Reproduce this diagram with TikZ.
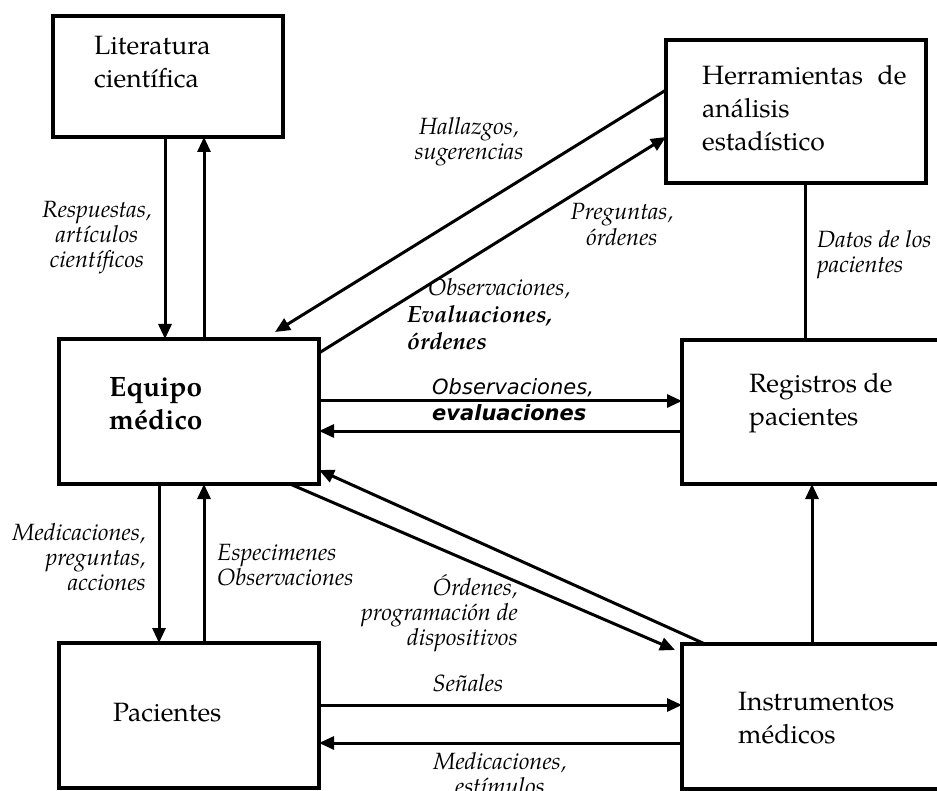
\documentclass[tikz,border=0pt]{standalone}
\usepackage{fontspec}
\setmainfont{texgyrepagella}[Extension=.otf, UprightFont=*-regular, BoldFont=*-bold, ItalicFont=*-italic, BoldItalicFont=*-bolditalic]
\newfontfamily\verdanafont{DejaVu Sans}
\usetikzlibrary{arrows.meta,positioning}

\tikzset{
  box/.style={draw, line width=4pt, minimum width=260pt, minimum height=145pt, inner sep=0pt, outer sep=0pt},
  boxtext/.style={font=\fontsize{26.5}{33}\selectfont, inner sep=0pt, align=left, anchor=west},
  lbl/.style={font=\fontsize{23.5}{25}\selectfont\itshape, inner sep=0pt},
  flow/.style={line width=3pt, -{Triangle[length=15pt,width=13pt]}},
  link/.style={line width=3pt},
}

\begin{document}
\begin{tikzpicture}[x=1pt,y=-1pt]
\useasboundingbox (0,0) rectangle (937,791);
\clip (0,0) rectangle (937,791);

% boxes
\node[box, minimum width=230pt, minimum height=121pt] (lit) at (168,76.5) {};
\node[box, minimum height=143pt] (herr) at (796,111.5) {};
\node[box] (equipo) at (189,411.5) {};
\node[box, below=159pt of equipo] (pac) {};
\node[box, minimum height=144pt] (reg) at (812,412) {};
\node[box, below=160pt of reg] (instr) {};

% box texts
\node[boxtext] (lit-t) at (94,62.5) {Literatura\\científica};
\node[boxtext] (herr-t) at (702,108) {Herramientas\hspace{8pt} de\\análisis\\estadístico};
\node[boxtext, font=\fontsize{28}{33}\selectfont\bfseries] (equipo-t) at (109,403.5) {Equipo\\médico};
\node[boxtext] (pac-t) at (113,713) {Pacientes};
\node[boxtext] (reg-t) at (749,403.5) {Registros de\\pacientes};
\node[boxtext] (instr-t) at (738,718.5) {Instrumentos\\médicos};

% labels
\node[lbl, align=center] (resp) at (97,238) {Respuestas,\\artículos\\científicos};
\node[lbl, align=center] (hall) at (469,141.5) {Hallazgos,\\sugerencias};
\node[lbl, align=center] (preg) at (622,224.5) {Preguntas,\\órdenes};
\node[lbl, align=left, anchor=west] (datos) at (817,255) {Datos de los\\pacientes};
\node[lbl, font=\fontsize{23.5}{27}\selectfont\itshape, align=left, anchor=west] (obs-eval) at (407,314) {\hspace*{21pt}Observaciones,\\\textbf{Evaluaciones,}\\\textbf{órdenes}};
\node[lbl, font=\verdanafont\fontsize{21}{26}\selectfont\itshape, align=left, anchor=west] (obs-sans) at (432,400) {Observaciones,\\\textbf{evaluaciones}};
\node[lbl, align=right, anchor=east] (medic) at (146,557) {Medicaciones,\\preguntas,\\acciones};
\node[lbl, align=left, anchor=west] (espec) at (217,565.5) {Especimenes\\Observaciones};
\node[lbl, align=right, anchor=east] (ordenes) at (518,613) {Órdenes,\\programación de\\dispositivos};
\node[lbl] (senales) at (468,683) {Señales};
\node[lbl, align=center] (estim) at (500,774) {Medicaciones,\\estímulos};

% connectors
\draw[flow] ([xshift=-3pt]lit.south) -- ([xshift=-24pt]equipo.north);
\draw[flow] ([xshift=15pt]equipo.north) -- ([xshift=36pt]lit.south);
\draw[flow] ([yshift=21.5pt]herr.west) -- ([xshift=86pt,yshift=7pt]equipo.north);
\draw[flow] ([yshift=58.5pt]equipo.east) -- ([yshift=-25.5pt]herr.west);
\draw[flow] ([yshift=10.5pt]equipo.east) -- ([yshift=11pt]reg.west);
\draw[flow] ([yshift=-19pt]reg.west) -- ([yshift=-19.5pt]equipo.east);
\draw[link] ([xshift=9pt]herr.south) -- ([xshift=-7pt]reg.north);
\draw[flow] ([xshift=-107pt]instr.north) -- ([yshift=-58.5pt]equipo.east);
\draw[flow] ([xshift=101pt]equipo.south) -- ([xshift=-7pt,yshift=-6pt]instr.north west);
\draw[flow] (instr.north) -- (reg.south);
\draw[flow] ([xshift=-30pt]equipo.south) -- ([xshift=-30pt]pac.north);
\draw[flow] ([xshift=15pt]pac.north) -- ([xshift=15pt]equipo.south);
\draw[flow] ([yshift=10.5pt]pac.east) -- ([yshift=11.5pt]instr.west);
\draw[flow] ([yshift=-26.5pt]instr.west) -- ([yshift=-27.5pt]pac.east);
\end{tikzpicture}
\end{document}
